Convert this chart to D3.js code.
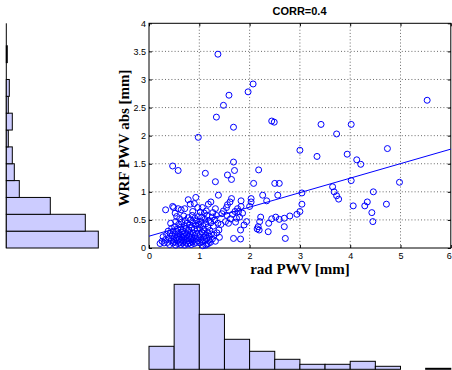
<!DOCTYPE html>
<html>
<head>
<meta charset="utf-8">
<script src="https://cdn.jsdelivr.net/npm/d3@7"></script>
<style>
  body { margin: 0; background: #fff; }
  svg { display: block; }
  .tick text { font-family: "Liberation Sans", Arial, sans-serif; font-size: 9px; fill: #000; }
  .tick line { stroke: #000; }
</style>
</head>
<body>
<div id="chart"></div>
<script>
// scatter points [rad PWV, WRF PWV abs]
const outliers = [
  [0.98, 1.97], [0.47, 1.46], [0.58, 1.38], [1.12, 1.33], [1.32, 1.18], [1.56, 1.30], [1.64, 1.22],
  [1.68, 1.53], [1.70, 1.38], [2.18, 1.39], [2.08, 1.15], [3.00, 1.74], [3.34, 1.63], [3.94, 1.67],
  [4.13, 1.57], [4.21, 1.49], [4.74, 1.77], [4.98, 1.17], [3.73, 2.03], [4.02, 1.20], [3.65, 1.09],
  [3.68, 1.00], [3.73, 0.93], [3.77, 0.87], [4.06, 0.75], [4.29, 0.75], [4.34, 0.82], [4.46, 1.00],
  [4.45, 0.47], [4.43, 0.63], [4.72, 0.78], [3.04, 0.98], [3.04, 0.78], [3.00, 0.65], [2.94, 0.60],
  [2.71, 0.17], [2.69, 0.38], [2.69, 0.53], [2.80, 0.57], [2.56, 0.94], [2.50, 1.15], [2.59, 1.15],
  [2.26, 0.94], [2.34, 0.84], [2.37, 0.29], [2.38, 0.44], [2.44, 0.52], [2.52, 0.55], [2.59, 0.51],
  [2.17, 0.38], [2.15, 0.34], [2.19, 0.32], [2.22, 0.55], [2.20, 0.47], [2.00, 0.74], [2.03, 0.88],
  [2.03, 0.82], [1.94, 0.47], [1.89, 0.41], [1.82, 0.32], [1.82, 0.16], [1.68, 0.17], [1.83, 0.84],
  [1.83, 0.74], [1.78, 0.65], [1.74, 0.53], [1.71, 0.65], [1.64, 0.88], [1.61, 0.82], [1.56, 0.77],
  [1.54, 0.72], [1.48, 0.66], [1.40, 0.19], [1.39, 0.32], [1.37, 0.44], [1.38, 0.94], [1.23, 0.82],
  [1.13, 0.05], [1.18, 0.08], [1.07, 0.04],
  [1.68, 2.15], [2.44, 2.26], [2.49, 2.24], [3.42, 2.20], [4.02, 2.20], [1.34, 2.33],
  [1.48, 2.54], [5.53, 2.63], [1.59, 2.72], [1.97, 2.78], [2.07, 2.92], [1.37, 3.45],
  [1.52, 0.47], [1.55, 0.58], [1.58, 0.44], [1.62, 0.52], [1.66, 0.60], [1.72, 0.46], [1.76, 0.70],
  [1.80, 0.55], [1.86, 0.62]
];

const cluster = [
  [0.22, 0.08], [0.26, 0.12], [0.28, 0.20], [0.30, 0.09], [0.33, 0.68], [0.33, 0.15], [0.35, 0.24],
  [0.37, 0.10], [0.38, 0.30], [0.40, 0.18], [0.41, 0.06], [0.42, 0.26], [0.43, 0.44], [0.44, 0.13],
  [0.45, 0.35], [0.46, 0.22], [0.47, 0.74], [0.48, 0.09], [0.48, 0.30], [0.49, 0.72], [0.49, 0.17],
  [0.51, 0.11], [0.52, 0.24], [0.53, 0.05], [0.54, 0.18], [0.55, 0.29], [0.56, 0.13], [0.57, 0.21],
  [0.58, 0.08], [0.59, 0.26], [0.60, 0.16], [0.61, 0.10], [0.62, 0.22], [0.63, 0.06], [0.64, 0.28],
  [0.65, 0.14], [0.66, 0.19], [0.67, 0.09], [0.68, 0.25], [0.69, 0.12], [0.70, 0.20], [0.71, 0.05],
  [0.72, 0.27], [0.73, 0.15], [0.74, 0.10], [0.75, 0.23], [0.76, 0.17], [0.77, 0.07], [0.78, 0.29],
  [0.79, 0.13], [0.80, 0.21], [0.81, 0.09], [0.82, 0.25], [0.83, 0.16], [0.84, 0.06], [0.85, 0.19],
  [0.86, 0.11], [0.87, 0.27], [0.88, 0.14], [0.90, 0.08], [0.91, 0.22], [0.92, 0.17], [0.94, 0.10],
  [0.95, 0.26], [0.97, 0.13], [0.99, 0.20],
  [0.51, 0.38], [0.53, 0.47], [0.55, 0.56], [0.57, 0.34], [0.59, 0.42], [0.61, 0.52], [0.63, 0.37],
  [0.65, 0.46], [0.67, 0.31], [0.69, 0.57], [0.70, 0.40], [0.72, 0.49], [0.74, 0.35], [0.76, 0.44],
  [0.78, 0.54], [0.79, 0.32], [0.81, 0.41], [0.83, 0.50], [0.85, 0.36], [0.86, 0.58], [0.88, 0.45],
  [0.90, 0.33], [0.91, 0.53], [0.93, 0.40], [0.95, 0.48], [0.96, 0.34], [0.98, 0.56], [0.99, 0.42],
  [0.52, 0.62], [0.58, 0.70], [0.64, 0.68], [0.71, 0.70], [0.78, 0.86], [0.82, 0.78], [0.87, 0.65],
  [0.90, 0.79], [0.93, 0.90], [0.97, 0.72],
  [1.01, 0.09], [1.02, 0.24], [1.03, 0.15], [1.05, 0.28], [1.06, 0.11], [1.08, 0.19], [1.09, 0.26],
  [1.11, 0.13], [1.12, 0.22], [1.14, 0.17], [1.15, 0.07], [1.17, 0.27], [1.19, 0.14], [1.20, 0.21],
  [1.22, 0.10], [1.24, 0.25], [1.26, 0.16], [1.29, 0.23], [1.32, 0.12], [1.35, 0.27],
  [1.01, 0.36], [1.03, 0.47], [1.05, 0.55], [1.07, 0.40], [1.09, 0.33], [1.11, 0.51], [1.13, 0.43],
  [1.15, 0.58], [1.17, 0.37], [1.19, 0.49], [1.21, 0.31], [1.23, 0.45], [1.26, 0.55], [1.28, 0.39],
  [1.31, 0.50], [1.34, 0.58], [1.43, 0.42],
  [1.02, 0.64], [1.06, 0.72], [1.10, 0.62], [1.14, 0.66], [1.18, 0.78], [1.27, 0.63], [1.32, 0.70],
  [1.45, 0.61]
];

// fitted line end points
const fitLine = [[0, 0.21], [6, 1.76]];

// histogram of rad PWV (bins of 0.5 from 0 to 6)
const xBinWidth = 0.5;
const xHistCounts = [23, 85, 55, 30, 18, 10, 5, 5, 8, 3, 0, 1];

// histogram of WRF PWV abs (bins of 0.3 from 0 to 3.6)
const yBinWidth = 0.3;
const yHistCounts = [92, 79, 44, 13, 8, 6, 2, 6, 2, 3, 0, 1];

const xTicks = [0, 1, 2, 3, 4, 5, 6];
const yTicks = [0, 0.5, 1, 1.5, 2, 2.5, 3, 3.5, 4];

const W = 452, H = 370;
const plot = { left: 149, right: 450.8, top: 23.3, bottom: 248 };

const svg = d3.select("#chart").append("svg")
  .attr("width", W)
  .attr("height", H);

const x = d3.scaleLinear().domain([0, 6]).range([plot.left, plot.right]);
const y = d3.scaleLinear().domain([0, 4]).range([plot.bottom, plot.top]);

// grid (dotted)
const grid = svg.append("g")
  .attr("stroke", "#444")
  .attr("stroke-width", 0.8)
  .attr("stroke-dasharray", "1,2.2");
grid.selectAll(".gx").data(xTicks.slice(1, -1)).enter().append("line")
  .attr("x1", d => x(d)).attr("x2", d => x(d))
  .attr("y1", plot.top).attr("y2", plot.bottom);
grid.selectAll(".gy").data(yTicks.slice(1, -1)).enter().append("line")
  .attr("x1", plot.left).attr("x2", plot.right)
  .attr("y1", d => y(d)).attr("y2", d => y(d));

// axes, ticks pointing inwards
const xAxis = svg.append("g")
  .attr("transform", `translate(0,${plot.bottom})`)
  .call(d3.axisBottom(x).tickValues(xTicks).tickFormat(d3.format("d"))
    .tickSizeInner(-3).tickSizeOuter(0).tickPadding(5));
// last label sits on the page edge, nudge it in
xAxis.selectAll(".tick text").filter(d => d === 6).attr("dx", -2);

const yAxis = svg.append("g")
  .attr("transform", `translate(${plot.left},0)`)
  .call(d3.axisLeft(y).tickValues(yTicks).tickFormat(d => d)
    .tickSizeInner(-3).tickSizeOuter(0).tickPadding(3));
svg.append("g")
  .attr("transform", `translate(0,${plot.top})`)
  .call(d3.axisTop(x).tickValues(xTicks).tickFormat("").tickSizeInner(-3).tickSizeOuter(0));
svg.append("g")
  .attr("transform", `translate(${plot.right},0)`)
  .call(d3.axisRight(y).tickValues(yTicks).tickFormat("").tickSizeInner(-3).tickSizeOuter(0));
svg.selectAll(".domain").remove();

svg.append("rect")
  .attr("x", plot.left).attr("y", plot.top)
  .attr("width", plot.right - plot.left).attr("height", plot.bottom - plot.top)
  .attr("fill", "none").attr("stroke", "#000").attr("stroke-width", 1);

// fitted line
svg.append("path")
  .datum(fitLine)
  .attr("d", d3.line().x(d => x(d[0])).y(d => y(d[1])))
  .attr("fill", "none")
  .attr("stroke", "#0000ff")
  .attr("stroke-width", 1);

// scatter
svg.append("g").selectAll("circle")
  .data(outliers.concat(cluster))
  .enter().append("circle")
  .attr("cx", d => x(d[0]))
  .attr("cy", d => y(d[1]))
  .attr("r", 3)
  .attr("fill", "none")
  .attr("stroke", "#0000ff")
  .attr("stroke-width", 1);

// titles
svg.append("text")
  .attr("x", 299.5).attr("y", 15)
  .attr("text-anchor", "middle")
  .style("font-family", "Liberation Sans, Arial, sans-serif")
  .style("font-size", "11px").style("font-weight", "bold")
  .text("CORR=0.4");

svg.append("text")
  .attr("x", 300).attr("y", 274)
  .attr("text-anchor", "middle")
  .style("font-family", "Liberation Serif, Times New Roman, serif")
  .style("font-size", "15px").style("font-weight", "bold")
  .text("rad PWV [mm]");

svg.append("text")
  .attr("transform", "translate(128.5,138) rotate(-90)")
  .attr("text-anchor", "middle")
  .style("font-family", "Liberation Serif, Times New Roman, serif")
  .style("font-size", "15px").style("font-weight", "bold")
  .text("WRF PWV abs [mm]");

// left histogram (horizontal bars)
const hx = d3.scaleLinear().domain([0, 100]).range([6.3, 106.3]);
const yBins = yHistCounts.map((c, i) => ({ lo: i * yBinWidth, hi: (i + 1) * yBinWidth, c }));
svg.append("line")
  .attr("x1", hx(0)).attr("x2", hx(0))
  .attr("y1", plot.top).attr("y2", plot.bottom)
  .attr("stroke", "#000");
svg.append("g").selectAll("rect")
  .data(yBins.filter(d => d.c > 0))
  .enter().append("rect")
  .attr("x", hx(0))
  .attr("y", d => y(d.hi))
  .attr("width", d => hx(d.c) - hx(0))
  .attr("height", d => y(d.lo) - y(d.hi))
  .attr("fill", "#ccccff")
  .attr("stroke", "#000")
  .attr("stroke-width", 1);

// bottom histogram
const hy = d3.scaleLinear().domain([0, 100]).range([369.3, 269.3]);
const xBins = xHistCounts.map((c, i) => ({ lo: i * xBinWidth, hi: (i + 1) * xBinWidth, c }));
svg.append("g").selectAll("rect")
  .data(xBins.filter(d => d.c > 0))
  .enter().append("rect")
  .attr("x", d => x(d.lo))
  .attr("y", d => hy(d.c))
  .attr("width", d => x(d.hi) - x(d.lo))
  .attr("height", d => hy(0) - hy(d.c))
  .attr("fill", "#ccccff")
  .attr("stroke", "#000")
  .attr("stroke-width", 1);
</script>
</body>
</html>
